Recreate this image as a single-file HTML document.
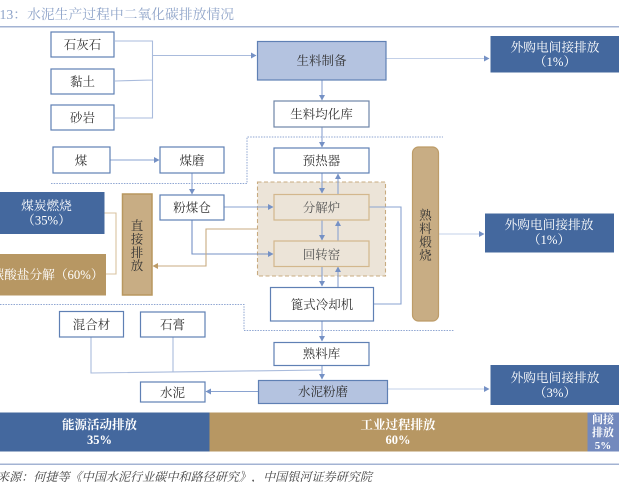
<!DOCTYPE html>
<html><head><meta charset="utf-8">
<style>
html,body{margin:0;padding:0;background:#fff;width:619px;height:482px;overflow:hidden}
svg{display:block;filter:blur(0.35px)}
text{font-family:"Noto Serif CJK SC","Liberation Serif",serif;text-anchor:middle;fill:#333;text-spacing-trim:space-all}
.l{font-family:"Liberation Serif","Noto Serif CJK SC",serif}
.w{fill:#fff}
</style></head><body>
<svg width="619" height="482" viewBox="0 0 619 482" xmlns="http://www.w3.org/2000/svg">
<defs>
<marker id="a" markerWidth="7" markerHeight="7" refX="5" refY="3" orient="auto" markerUnits="userSpaceOnUse"><path d="M0,0L5.5,3L0,6Z" fill="#7591c5"/></marker>
<marker id="t" markerWidth="7" markerHeight="7" refX="5" refY="3" orient="auto" markerUnits="userSpaceOnUse"><path d="M0,0L5.5,3L0,6Z" fill="#bd9c68"/></marker>
</defs>
<!-- title -->
<text x="-0.500" y="19" style="text-anchor:start;fill:#8fa4c9" font-size="13.800"><tspan class="l">13</tspan>&#xFF1A;水泥生产过程中二氧化碳排放情况</text>
<rect x="0" y="26" width="619" height="1.500" fill="#a3b3d3"/>

<!-- dashed region -->
<rect x="257.500" y="182" width="128" height="94" fill="#ece4d8" stroke="#c8ab80" stroke-dasharray="4 2.500" stroke-width="1.100"/>

<!-- connectors -->
<g fill="none" stroke="#a9bbdc" stroke-width="1.100">
<path d="M115,41H152.500V118H115M115,81L152,80"/>
<path d="M152,55.500H256" marker-end="url(#a)"/>
<path d="M386,58.500H489" marker-end="url(#a)" stroke="#c3d0e8"/>
<path d="M387,389H489" marker-end="url(#a)" stroke="#c3d0e8"/>
<path d="M438,234H484" marker-end="url(#a)" stroke="#c3d0e8"/>
</g>
<g fill="none" stroke="#8aa3d0" stroke-width="1.100">
<path d="M110,160H159" marker-end="url(#a)"/>
<path d="M192,173V194" marker-end="url(#a)"/>
<path d="M224,207H273" marker-end="url(#a)"/>
<path d="M192,220V254H273" marker-end="url(#a)" stroke="#7591c5"/>
<path d="M322,80V100" marker-end="url(#a)"/>
<path d="M322,127V147" marker-end="url(#a)"/>
<path d="M322,173V193" marker-end="url(#a)"/>
<path d="M338,194V174" marker-end="url(#a)"/>
<path d="M322,220V240" marker-end="url(#a)"/>
<path d="M338,241V221" marker-end="url(#a)"/>
<path d="M322,266V286" marker-end="url(#a)"/>
<path d="M338,287V267" marker-end="url(#a)"/>
<path d="M322,321V341" marker-end="url(#a)"/>
<path d="M322,365V379" marker-end="url(#a)"/>
<path d="M369,207H401V304H373"/>
<path d="M258,391.500H206" marker-end="url(#a)"/>
</g>
<path d="M91,337V373L322,370M173,337V372" fill="none" stroke="#a9bbdc" stroke-width="1.100"/>
<path d="M104,213H116V274H106" fill="none" stroke="#d8c3a0" stroke-width="1.100"/>

<!-- dotted -->
<g fill="none" stroke="#8fa6d2" stroke-width="1" stroke-dasharray="1.500 1.200">
<path d="M51,183.500H247V137H443"/>
<path d="M0,304.500H244V330.500H454"/>
</g>

<path d="M257,229H206V266H153" fill="none" stroke="#c8ab80" stroke-width="1.100" marker-end="url(#t)"/>

<!-- white boxes -->
<g fill="#fff" stroke="#5f80b4" stroke-width="1.200">
<rect x="51" y="32" width="63" height="25"/>
<rect x="51" y="69" width="63" height="25"/>
<rect x="51" y="105" width="63" height="25"/>
<rect x="53" y="147" width="57" height="26"/>
<rect x="160" y="147" width="64" height="26"/>
<rect x="160" y="195" width="64" height="25"/>
<rect x="274" y="101" width="95" height="26" stroke="#6f86a8"/>
<rect x="274" y="148" width="95" height="25"/>
<rect x="270.500" y="287.500" width="103" height="33.500"/>
<rect x="274" y="342.500" width="95" height="23"/>
<rect x="59.500" y="311.500" width="64" height="25.500"/>
<rect x="140.500" y="312" width="64.500" height="25"/>
<rect x="140.500" y="382" width="64.500" height="20"/>
</g>
<g fill="#ece4d8" stroke="#d3b78d" stroke-width="1.200">
<rect x="274" y="194.500" width="95" height="25.500"/>
<rect x="274" y="241" width="95" height="25.500"/>
</g>
<g fill="#b4c3e0" stroke="#5f80b4" stroke-width="1.200">
<rect x="257.500" y="41.500" width="128.500" height="38.500"/>
<rect x="258.500" y="380.500" width="129" height="23"/>
</g>

<!-- blue boxes -->
<g fill="#44689e">
<rect x="-1" y="192" width="105.500" height="42"/>
<rect x="490.500" y="36" width="129" height="36.500"/>
<rect x="485" y="213.500" width="129" height="39"/>
<rect x="490.500" y="365" width="129" height="40"/>
</g>
<rect x="-1" y="254" width="107" height="41.500" fill="#b79763"/>
<rect x="122.500" y="194" width="29.500" height="101" fill="#c8ad84" stroke="#b8975f" stroke-width="1.500"/>
<rect x="412.500" y="147" width="26" height="174" rx="6" fill="#c8ad84" stroke="#bd9c68" stroke-width="1.200"/>

<!-- bottom bar -->
<rect x="0" y="412.500" width="209.500" height="39" fill="#44689e"/>
<rect x="209.500" y="412.500" width="378" height="39" fill="#b79763"/>
<rect x="587.500" y="412.500" width="31.500" height="39" fill="#7389bd"/>
<rect x="0" y="463.500" width="619" height="1.500" fill="#a3b3d3"/>

<!-- labels -->
<g font-size="12.500">
<text x="82.500" y="49">石灰石</text>
<text x="82.500" y="86">黏土</text>
<text x="82.500" y="122">砂岩</text>
<text x="81" y="165">煤</text>
<text x="192" y="165">煤磨</text>
<text x="192" y="212">粉煤仓</text>
<text x="321.500" y="65">生料制备</text>
<text x="321.500" y="118.500">生料均化库</text>
<text x="321.500" y="165">预热器</text>
<text x="321.500" y="212" style="fill:#555">分解炉</text>
<text x="321.500" y="259" style="fill:#555">回转窑</text>
<text x="322" y="309">篦式冷却机</text>
<text x="321.500" y="358">熟料库</text>
<text x="91.500" y="329">混合材</text>
<text x="172.500" y="329">石膏</text>
<text x="172.500" y="397">水泥</text>
<text x="323" y="396">水泥粉磨</text>
<text x="137" y="230">直</text>
<text x="137" y="243.500">接</text>
<text x="137" y="257">排</text>
<text x="137" y="270">放</text>
<text x="425.500" y="219.500">熟</text>
<text x="425.500" y="233">料</text>
<text x="425.500" y="246.500">煅</text>
<text x="425.500" y="259.500">烧</text>
</g>
<g font-size="12.700">
<text class="w" x="46.500" y="210">煤炭燃烧</text>
<text class="w" x="46.500" y="224.500">&#xFF08;<tspan class="l">35%</tspan>&#xFF09;</text>
<text class="w" x="103.500" y="279" style="text-anchor:end">碳酸盐分解&#xFF08;<tspan class="l">60%</tspan>&#xFF09;</text>
<text class="w" x="555" y="51.500">外购电间接排放</text>
<text class="w" x="555" y="66">&#xFF08;<tspan class="l">1%</tspan>&#xFF09;</text>
<text class="w" x="549" y="229">外购电间接排放</text>
<text class="w" x="549" y="244">&#xFF08;<tspan class="l">1%</tspan>&#xFF09;</text>
<text class="w" x="555" y="382">外购电间接排放</text>
<text class="w" x="555" y="397">&#xFF08;<tspan class="l">3%</tspan>&#xFF09;</text>
</g>
<g font-size="12.500" font-weight="700">
<text class="w" x="99.500" y="429">能源活动排放</text>
<text class="w l" x="99.500" y="444">35%</text>
<text class="w" x="398" y="429">工业过程排放</text>
<text class="w l" x="398" y="444">60%</text>
</g>
<g font-size="11" font-weight="700">
<text class="w" x="603" y="423">间接</text>
<text class="w" x="603" y="436">排放</text>
<text class="w l" x="603" y="449">5%</text>
</g>
<text x="-3" y="481" font-size="12.100" font-style="italic" style="text-anchor:start;fill:#444">来源&#xFF1A;何捷等&#x300A;中国水泥行业碳中和路径研究&#x300B;&#xFF0C;中国银河证券研究院</text>
</svg>
</body></html>
